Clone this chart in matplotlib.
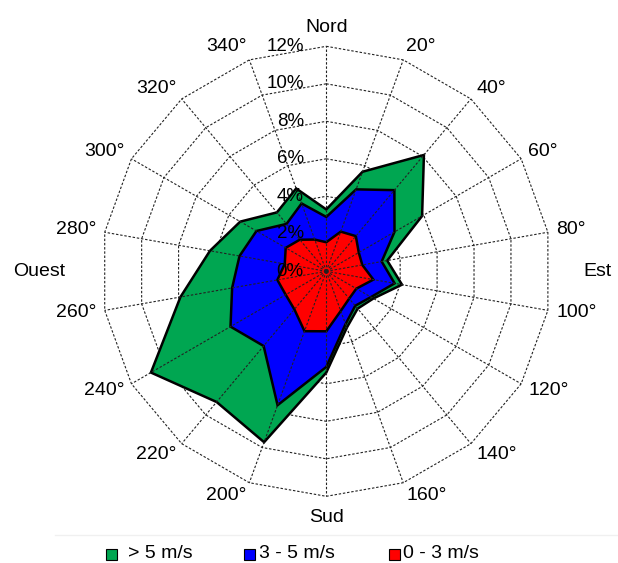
import numpy as np
import matplotlib
matplotlib.use("Agg")
import matplotlib.pyplot as plt
from matplotlib.patches import Polygon, Rectangle

plt.rcParams['font.family'] = ['Liberation Sans', 'DejaVu Sans']

# directions (degrees, clockwise from north)
directions = list(range(0, 360, 20))
# frequency (%) per speed class
freq_0_3 = [1.55, 2.25, 2.45, 2.0, 1.95, 2.55, 1.85, 1.9, 2.25,
            3.2, 3.4, 2.65, 2.5, 2.65, 2.25, 2.5, 2.2, 1.8]
freq_3_5 = [1.35, 2.4, 3.2, 2.2, 1.05, 1.15, 0.9, 0.5, 0.75,
            1.9, 4.2, 2.55, 3.4, 2.45, 2.45, 1.8, 1.1, 2.05]
freq_5 = [0.4, 1.0, 2.45, 1.7, 0.3, 0.4, 0.15, 0.2, 0.2,
          0.3, 2.1, 3.9, 4.9, 2.8, 1.6, 1.0, 0.8, 0.85]
class_labels = ["> 5 m/s", "3 - 5 m/s", "0 - 3 m/s"]
class_colors = ["#00a651", "#0000ff", "#ff0000"]
ring_values = [0, 2, 4, 6, 8, 10, 12]
cardinals = {0: "Nord", 90: "Est", 180: "Sud", 270: "Ouest"}

W, H = 618, 563
CX, CY = 326.3, 271.3      # centre in pixels
PX = 18.75                 # pixels per %
FS = 14

fig = plt.figure(figsize=(W / 100, H / 100), dpi=100)
ax = fig.add_axes([0, 0, 1, 1])
ax.set_xlim(-CX / PX, (W - CX) / PX)
ax.set_ylim(-(H - CY) / PX, CY / PX)
ax.axis("off")

theta = np.deg2rad(directions)


def xy(r, th):
    return np.asarray(r) * np.sin(th), np.asarray(r) * np.cos(th)


rmax = ring_values[-1]
dash = (0, (2.2, 1.6))

# rings (polygonal)
for r in ring_values[1:]:
    x, y = xy(np.full(len(theta) + 1, r), np.append(theta, theta[0]))
    ax.plot(x, y, color="#222222", lw=0.8, linestyle=dash, zorder=1)

# stacked areas
cum_low = np.array(freq_0_3)
cum_mid = cum_low + np.array(freq_3_5)
cum_high = cum_mid + np.array(freq_5)
for vals, col in zip([cum_high, cum_mid, cum_low], class_colors):
    x, y = xy(vals, theta)
    ax.add_patch(Polygon(np.column_stack([x, y]), closed=True, facecolor=col,
                         edgecolor="black", lw=1.8, zorder=2))

# spokes
for th in theta:
    x, y = xy([0, rmax], [th, th])
    ax.plot(x, y, color="#222222", lw=0.8, linestyle=dash, zorder=3)

# radial labels
for r in ring_values:
    ax.text(-1.2, r, f"{r}%", ha="right", va="center", fontsize=FS - 0.5, zorder=4)

# direction labels
for d, th in zip(directions, theta):
    if d in cardinals:
        continue
    x, y = xy(12.45, th)
    ha = "left" if np.sin(th) > 0 else "right"
    ax.text(x, y + 0.3 * np.cos(th), f"{d}°", ha=ha, va="center", fontsize=FS)

ax.text(0, 13.0, "Nord", ha="center", va="center", fontsize=FS)
ax.text(0, -13.15, "Sud", ha="center", va="center", fontsize=FS)
ax.text(13.7, 0, "Est", ha="left", va="center", fontsize=FS)
ax.text(-13.9, 0, "Ouest", ha="right", va="center", fontsize=FS)

# faint line above legend
fig.add_artist(plt.Line2D([55 / W, 1], [1 - 535 / H] * 2, color="#f0f0f0", lw=1))

# legend
sq_x = [106, 244, 389]
txt_x = [128, 259, 403]
ly = 553
for sx, tx, lab, col in zip(sq_x, txt_x, class_labels, class_colors):
    fig.add_artist(Rectangle((sx / W, 1 - 559.5 / H), 11 / W, 11 / H,
                             transform=fig.transFigure, facecolor=col,
                             edgecolor="black", lw=0.8))
    fig.text(tx / W, 1 - ly / H, lab, ha="left", va="center", fontsize=FS)

fig.savefig("out.png", dpi=100)
